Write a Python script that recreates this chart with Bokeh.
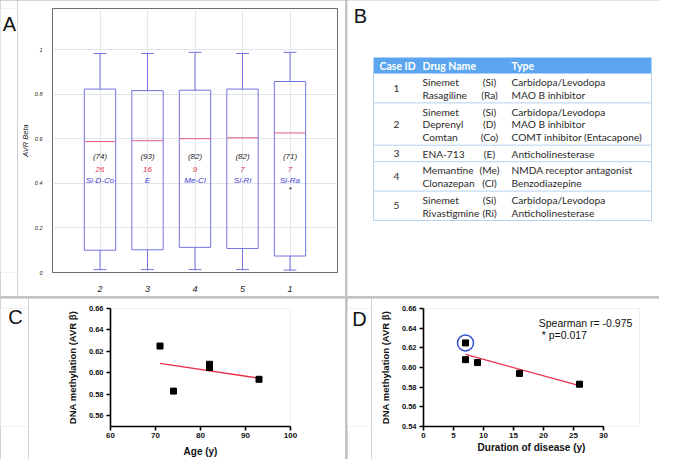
from bokeh.plotting import figure
from bokeh.layouts import column, row
from bokeh.models import (ColumnDataSource, Range1d, FactorRange, FixedTicker,
                          NumeralTickFormatter)
from bokeh.transform import dodge
from bokeh.core.properties import value
from bokeh.embed import file_html
from bokeh.resources import INLINE

# ---------------- Panel A data (box plot of AVR Beta per case) ----------------
case_order = ["2", "3", "4", "5", "1"]
whisker_hi = [0.984, 0.984, 0.989, 0.984, 0.989]
box_q3 = [0.824, 0.817, 0.819, 0.824, 0.858]
box_med = [0.588, 0.592, 0.601, 0.605, 0.627]
box_q1 = [0.100, 0.102, 0.113, 0.108, 0.074]
whisker_lo = [0.013, 0.013, 0.013, 0.013, 0.011]
age_labels = ["(74)", "(93)", "(82)", "(82)", "(71)"]
duration_labels = ["26", "16", "9", "7", "7"]
drug_labels = ["Si-D-Co", "E", "Me-Cl", "Si-Ri", "Si-Ra"]
signif_labels = ["", "", "", "", "*"]
yticks_A = [0, 0.2, 0.4, 0.6, 0.8, 1]
yticklabels_A = ["0", "0.2", "0.4", "0.6", "0.8", "1"]

# ---------------- Panel B data (drug table) ----------------
table_header = ["Case ID", "Drug Name", "Type"]
table_case = ["1", "2", "3", "4", "5"]
table_drugs = [["Sinemet", "Rasagiline"],
               ["Sinemet", "Deprenyl", "Comtan"],
               ["ENA-713"],
               ["Memantine", "Clonazepan"],
               ["Sinemet", "Rivastigmine"]]
table_abbr = [["(Si)", "(Ra)"],
              ["(Si)", "(D)", "(Co)"],
              ["(E)"],
              ["(Me)", "(Cl)"],
              ["(Si)", "(Ri)"]]
table_types = [["Carbidopa/Levodopa", "MAO B inhibitor"],
               ["Carbidopa/Levodopa", "MAO B inhibitor", "COMT inhibitor (Entacapone)"],
               ["Anticholinesterase"],
               ["NMDA receptor antagonist", "Benzodiazepine"],
               ["Carbidopa/Levodopa", "Anticholinesterase"]]

# ---------------- Panel C data (age vs methylation) ----------------
age_x = [71, 74, 82, 82, 93]
meth_c = [0.625, 0.583, 0.608, 0.605, 0.594]
fit_c_x = [71, 93]
fit_c_y = [0.6088, 0.5950]
xticks_C = [60, 70, 80, 90, 100]
yticks_C = [0.56, 0.58, 0.60, 0.62, 0.64, 0.66]

# ---------------- Panel D data (duration vs methylation) ----------------
dur_x = [7, 7, 9, 16, 26]
meth_d = [0.625, 0.608, 0.605, 0.594, 0.583]
fit_d_x = [7, 26]
fit_d_y = [0.6133, 0.5815]
circled_x = [7]
circled_y = [0.625]
stats_text = ["Spearman r= -0.975", "* p=0.017"]
xticks_D = [0, 5, 10, 15, 20, 25, 30]
yticks_D = [0.54, 0.56, 0.58, 0.60, 0.62, 0.64, 0.66]

panel_letters = ["A", "B", "C", "D"]

# ---------------- styles ----------------
BOX_BLUE = "#7272e2"
MED_RED = "#e45a78"
TXT_RED = "#e6344c"
TXT_BLUE = "#3c3cd4"
GRID = "#e4e4ec"
SEP = "#c4c4c4"
HEAD_BLUE = "#5ba6ee"
ROW_LINE = "#b6d2f0"
ARIAL = "Liberation Sans"
TABLE_FONT = "Lato"
LETTER_STYLE = dict(text_font=value(ARIAL), text_font_size="20px", text_color="#111111",
                    text_align="center", text_baseline="middle")


def blank_fig(w, h):
    f = figure(width=w, height=h, x_range=Range1d(0, w), y_range=Range1d(h, 0),
               output_backend="svg", toolbar_location=None, x_axis_type=None,
               y_axis_type=None, min_border=0, outline_line_color=None)
    f.grid.visible = False
    return f


def letter_fig(letter, w, h, cx, cy):
    f = blank_fig(w, h)
    f.text(x=[cx], y=[cy], text=[letter], **LETTER_STYLE)
    return f


# ================= Panel A =================
srcA = ColumnDataSource(dict(cat=case_order, hi=whisker_hi, q3=box_q3, med=box_med,
                             q1=box_q1, lo=whisker_lo, age=age_labels, dur=duration_labels,
                             drug=drug_labels, sig=signif_labels))
pA = figure(width=328, height=296, x_range=FactorRange(factors=case_order, range_padding=0.5,
                                                       range_padding_units="absolute"),
            y_range=Range1d(0, 1.186), output_backend="svg", toolbar_location=None,
            min_border_left=22, min_border_right=8, min_border_top=8, min_border_bottom=24)
pA.outline_line_color = "#6a6a6a"
pA.outline_line_width = 1
pA.xgrid.grid_line_color = GRID
pA.ygrid.grid_line_color = GRID
pA.yaxis.ticker = FixedTicker(ticks=yticks_A)
pA.yaxis.major_label_overrides = {t: l for t, l in zip(yticks_A, yticklabels_A)}
for ax in (pA.xaxis[0], pA.yaxis[0]):
    ax.axis_line_color = None
    ax.major_tick_line_color = None
    ax.minor_tick_line_color = None
    ax.major_label_text_font = ARIAL
    ax.major_label_text_font_style = "italic"
    ax.major_label_text_color = "#222222"
pA.yaxis.major_label_text_font_size = "5.5px"
pA.yaxis.major_label_standoff = 4
pA.xaxis.major_label_text_font_size = "9px"
pA.xaxis.major_label_standoff = 7
pA.yaxis.axis_label = "AVR Beta"
pA.yaxis.axis_label_text_font = ARIAL
pA.yaxis.axis_label_text_font_style = "italic"
pA.yaxis.axis_label_text_font_size = "7.5px"
pA.yaxis.axis_label_text_color = "#222222"
pA.yaxis.axis_label_standoff = 2

pA.segment(x0="cat", y0="q3", x1="cat", y1="hi", source=srcA, line_color=BOX_BLUE, line_width=1)
pA.segment(x0="cat", y0="lo", x1="cat", y1="q1", source=srcA, line_color=BOX_BLUE, line_width=1)
pA.segment(x0=dodge("cat", -0.135, range=pA.x_range), y0="hi",
           x1=dodge("cat", 0.135, range=pA.x_range), y1="hi",
           source=srcA, line_color=BOX_BLUE, line_width=1)
pA.segment(x0=dodge("cat", -0.135, range=pA.x_range), y0="lo",
           x1=dodge("cat", 0.135, range=pA.x_range), y1="lo",
           source=srcA, line_color=BOX_BLUE, line_width=1)
pA.vbar(x="cat", top="q3", bottom="q1", width=0.66, source=srcA,
        fill_color=None, line_color=BOX_BLUE, line_width=1)
pA.segment(x0=dodge("cat", -0.33, range=pA.x_range), y0="med",
           x1=dodge("cat", 0.33, range=pA.x_range), y1="med",
           source=srcA, line_color=MED_RED, line_width=1)
common_txt = dict(source=srcA, text_font=value(ARIAL), text_font_style="italic",
                  text_font_size="8px", text_align="center", text_baseline="middle")
pA.text(x="cat", y=0.519, text="age", text_color="#1a1a1a", **common_txt)
pA.text(x="cat", y=0.464, text="dur", text_color=TXT_RED, **common_txt)
pA.text(x="cat", y=0.412, text="drug", text_color=TXT_BLUE, **common_txt)
pA.text(x="cat", y=0.372, text="sig", text_color="#1a1a1a", **common_txt)
labA = letter_fig(panel_letters[0], 17, 296, 9, 17)

# ================= Panel B (table) =================
pB = blank_fig(312, 296)

T_LEFT, T_RIGHT = 26, 304
HEAD_TOP, HEAD_H = 57, 16
LINE_H, ROW_PAD, FIRST_OFF = 12.9, 3.6, 8.6
X_CASE, X_DRUG, X_ABBR, X_TYPE = T_LEFT + 23, T_LEFT + 49, T_LEFT + 116, T_LEFT + 138

pB.quad(left=[T_LEFT], right=[T_RIGHT], top=[HEAD_TOP], bottom=[HEAD_TOP + HEAD_H],
        fill_color=HEAD_BLUE, line_color=None)
pB.text(x=[T_LEFT + 6, X_DRUG, X_TYPE], y=[HEAD_TOP + HEAD_H / 2] * 3, text=table_header,
        text_font=value(TABLE_FONT), text_font_style="bold", text_font_size="10.5px",
        text_color="white", text_baseline="middle", text_align="left")

row_tops, y = [], HEAD_TOP + HEAD_H
cx, cy, ct = [], [], []
dx, dy, dt, ax_, ay, at, tx, ty, tt = [], [], [], [], [], [], [], [], []
for case, drugs, abbrs, types in zip(table_case, table_drugs, table_abbr, table_types):
    n = len(drugs)
    h = n * LINE_H + ROW_PAD
    row_tops.append(y)
    cx.append(X_CASE); cy.append(y + h / 2); ct.append(case)
    for i in range(n):
        ly = y + FIRST_OFF + i * LINE_H
        dx.append(X_DRUG); dy.append(ly); dt.append(drugs[i])
        ax_.append(X_ABBR); ay.append(ly); at.append(abbrs[i])
        tx.append(X_TYPE); ty.append(ly); tt.append(types[i])
    y += h
table_bottom = y
row_lines = row_tops[1:] + [table_bottom]
pB.segment(x0=[T_LEFT] * len(row_lines), x1=[T_RIGHT] * len(row_lines), y0=row_lines, y1=row_lines,
           line_color=ROW_LINE, line_width=1)
pB.segment(x0=[T_LEFT, T_RIGHT], x1=[T_LEFT, T_RIGHT], y0=[HEAD_TOP + HEAD_H] * 2,
           y1=[table_bottom] * 2, line_color=ROW_LINE, line_width=1)
tstyle = dict(text_font=value(TABLE_FONT), text_font_size="10.2px", text_color="#2b2b2b",
              text_baseline="middle")
pB.text(x=cx, y=cy, text=ct, text_align="center", **tstyle)
pB.text(x=dx, y=dy, text=dt, text_align="left", **tstyle)
pB.text(x=ax_, y=ay, text=at, text_align="center", **tstyle)
pB.text(x=tx, y=ty, text=tt, text_align="left", **tstyle)
pB.text(x=[13], y=[15], text=[panel_letters[1]], **LETTER_STYLE)


# ================= Panels C & D =================
def style_scatter(p, xticks, yticks, xlabel, xstandoff):
    p.outline_line_color = None
    p.grid.visible = False
    p.xaxis.ticker = FixedTicker(ticks=xticks)
    p.yaxis.ticker = FixedTicker(ticks=yticks)
    p.yaxis.formatter = NumeralTickFormatter(format="0.00")
    for ax in (p.xaxis[0], p.yaxis[0]):
        ax.axis_line_width = 1.6
        ax.axis_line_color = "black"
        ax.major_tick_line_width = 1.6
        ax.major_tick_line_color = "black"
        ax.major_tick_out = 4
        ax.major_tick_in = 0
        ax.minor_tick_line_color = None
        ax.major_label_text_font = ARIAL
        ax.major_label_text_font_style = "bold"
        ax.major_label_text_color = "#111111"
        ax.axis_label_text_font = ARIAL
        ax.axis_label_text_font_style = "bold"
        ax.axis_label_text_color = "#111111"
    p.xaxis.major_label_text_font_size = "8px"
    p.yaxis.major_label_text_font_size = "7.5px"
    p.xaxis.major_label_standoff = 2
    p.yaxis.major_label_standoff = 3
    p.xaxis.axis_label = xlabel
    p.xaxis.axis_label_text_font_size = "10px"
    p.xaxis.axis_label_standoff = xstandoff
    p.yaxis.axis_label = "DNA methylation (AVR β)"
    p.yaxis.axis_label_text_font_size = "9.5px"
    p.yaxis.axis_label_standoff = 8


pC = figure(width=317, height=161, x_range=Range1d(60, 100), y_range=Range1d(0.55, 0.66),
            output_backend="svg", toolbar_location=None,
            min_border_left=82, min_border_right=55, min_border_top=10, min_border_bottom=33)
style_scatter(pC, xticks_C, yticks_C, "Age (y)", 5)
pC.line(fit_c_x, fit_c_y, line_color="#e8304a", line_width=1.3)
pC.scatter(age_x, meth_c, marker="square", size=6, fill_color="black", line_color="black")
labC = letter_fig(panel_letters[2], 28, 161, 15, 12)

pD = figure(width=288, height=161, x_range=Range1d(0, 36), y_range=Range1d(0.54, 0.66),
            output_backend="svg", toolbar_location=None,
            min_border_left=52, min_border_right=20, min_border_top=10, min_border_bottom=33)
style_scatter(pD, xticks_D, yticks_D, "Duration of disease (y)", 1)
pD.xaxis.bounds = (0, 30)
pD.line(fit_d_x, fit_d_y, line_color="#e8304a", line_width=1.3)
pD.scatter(dur_x, meth_d, marker="square", size=6, fill_color="black", line_color="black")
pD.scatter(circled_x, circled_y, marker="circle", size=16, fill_color=None,
           line_color="#2f4fd0", line_width=1.5)
pD.text(x=[19.2, 19.7], y=[0.6456, 0.6333], text=stats_text, text_font=value(ARIAL),
        text_font_size="10.5px", text_color="#111111", text_baseline="middle", text_align="left")
labD = letter_fig(panel_letters[3], 24, 161, 12, 14)

layout = column(row(row(labA, pA), pB, spacing=2),
                row(row(labC, pC), row(labD, pD), spacing=2),
                spacing=2, styles={"background-color": SEP})

open("out.html", "w").write(file_html(layout, INLINE))
